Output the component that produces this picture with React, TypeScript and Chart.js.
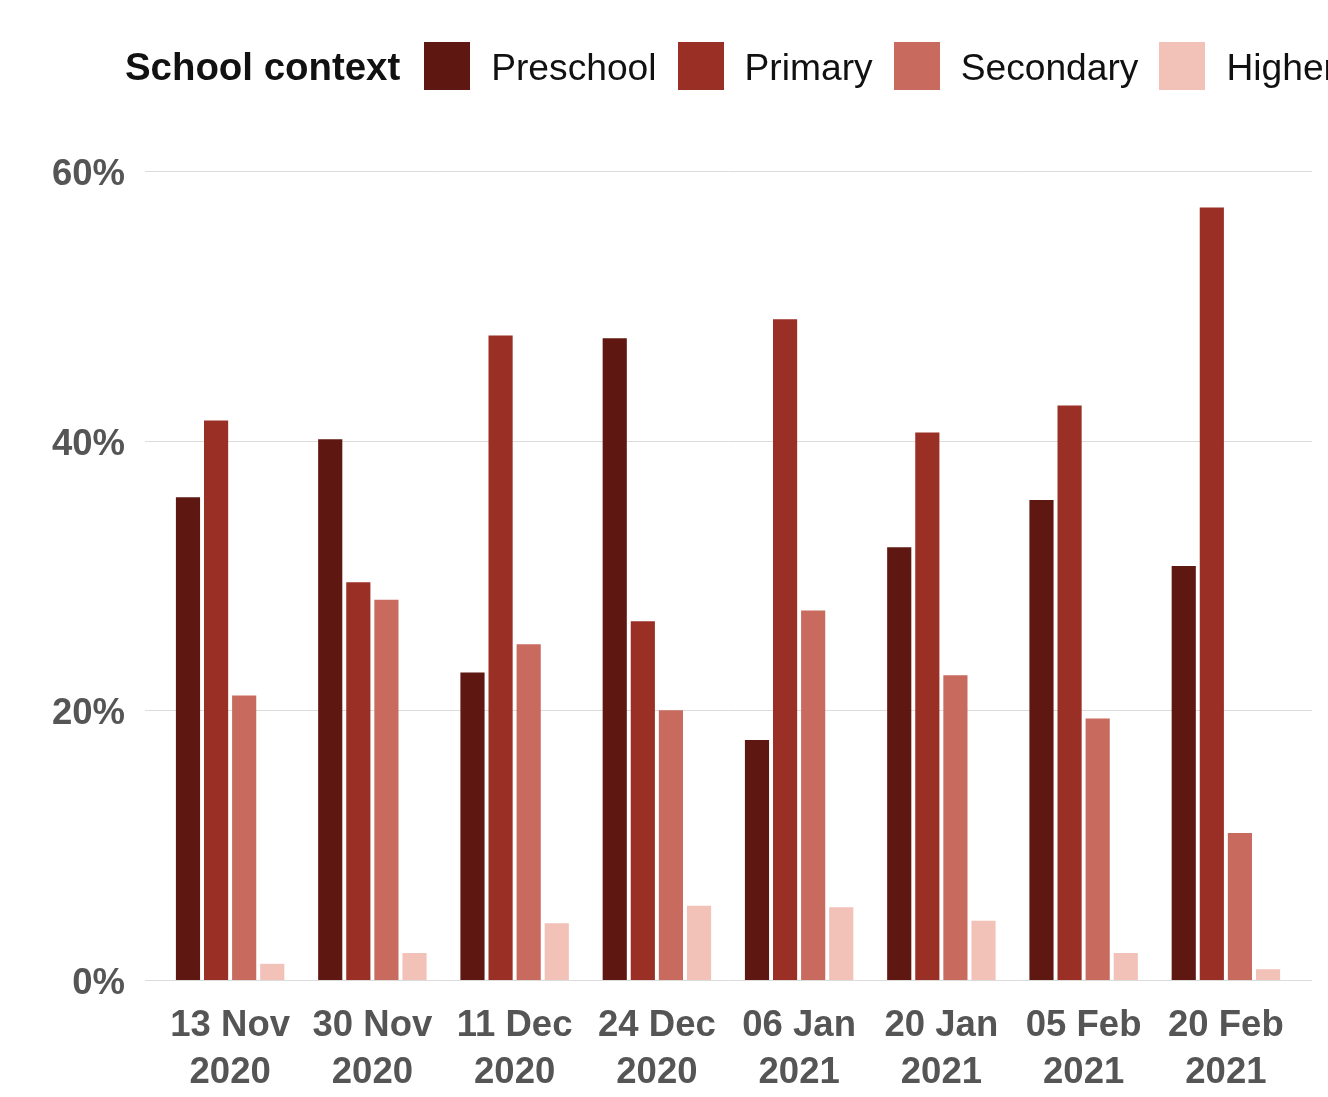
import React, { useEffect, useRef } from 'react';
import { Chart, registerables } from 'chart.js';

Chart.register(...registerables);

const categories: string[][] = [
  ['13 Nov', '2020'],
  ['30 Nov', '2020'],
  ['11 Dec', '2020'],
  ['24 Dec', '2020'],
  ['06 Jan', '2021'],
  ['20 Jan', '2021'],
  ['05 Feb', '2021'],
  ['20 Feb', '2021'],
];
const seriesNames = ['Preschool', 'Primary', 'Secondary', 'Higher'];
const preschool = [35.8, 40.1, 22.8, 47.6, 17.8, 32.1, 35.6, 30.7];
const primary = [41.5, 29.5, 47.8, 26.6, 49.0, 40.6, 42.6, 57.3];
const secondary = [21.1, 28.2, 24.9, 20.0, 27.4, 22.6, 19.4, 10.9];
const higher = [1.2, 2.0, 4.2, 5.5, 5.4, 4.4, 2.0, 0.8];
const seriesColors = ['#5f1711', '#9a2f25', '#c96a5f', '#f2c1b8'];
const yTicks = [0, 20, 40, 60];
const legendTitle = 'School context';

const FONT = '"Liberation Sans", Arial, Helvetica, sans-serif';

const gridPlugin = {
  id: 'extGrid',
  beforeDatasetsDraw(chart: any) {
    const { ctx, chartArea, scales } = chart;
    const y = scales.y;
    ctx.save();
    ctx.strokeStyle = '#dcdcdc';
    ctx.lineWidth = 1;
    yTicks.forEach((v) => {
      const py = Math.round(y.getPixelForValue(v)) + 0.5;
      ctx.beginPath();
      ctx.moveTo(chartArea.left - 14, py);
      ctx.lineTo(chartArea.right + 15, py);
      ctx.stroke();
    });
    ctx.restore();
  },
};

export default function App() {
  const canvasRef = useRef<HTMLCanvasElement>(null);

  useEffect(() => {
    const allSeries = [preschool, primary, secondary, higher];
    const chart = new Chart(canvasRef.current!, {
      type: 'bar',
      data: {
        labels: categories,
        datasets: seriesNames.map((name, i) => ({
          label: name,
          data: allSeries[i],
          backgroundColor: seriesColors[i],
          borderWidth: 0,
          barPercentage: 0.86,
          categoryPercentage: 0.79,
        })),
      },
      options: {
        animation: false,
        responsive: true,
        maintainAspectRatio: false,
        layout: { padding: { top: 171, right: 31, left: 0, bottom: 0 } },
        plugins: {
          legend: { display: false },
          tooltip: { enabled: false },
        },
        scales: {
          x: {
            grid: { display: false, drawTicks: false },
            border: { display: false },
            ticks: {
              color: '#555555',
              font: { family: FONT, size: 36.5, weight: 'bold', lineHeight: 1.27 },
              padding: 23,
              maxRotation: 0,
              autoSkip: false,
            },
            afterFit: (s: any) => {
              s.height = 117;
            },
          },
          y: {
            min: 0,
            max: 60,
            grid: { display: false, drawTicks: false },
            border: { display: false },
            ticks: {
              stepSize: 20,
              color: '#555555',
              font: { family: FONT, size: 36.5, weight: 'bold' },
              padding: 34,
              labelOffset: 4,
              callback: (v: any) => `${v}%`,
            },
            afterFit: (s: any) => {
              s.width = 159;
            },
          },
        },
      },
      plugins: [gridPlugin],
    });
    return () => chart.destroy();
  }, []);

  return (
    <div
      style={{
        position: 'fixed',
        left: 0,
        top: 0,
        width: 1328,
        height: 1097,
        overflow: 'hidden',
        background: '#ffffff',
      }}
    >
      <div style={{ position: 'absolute', left: 0, top: 0, width: 1328, height: 1097 }}>
        <canvas ref={canvasRef} />
      </div>
      <div
        style={{
          position: 'absolute',
          left: 125,
          top: 42,
          height: 48,
          display: 'flex',
          alignItems: 'center',
          whiteSpace: 'nowrap',
          fontFamily: FONT,
          color: '#111111',
        }}
      >
        <span style={{ fontWeight: 'bold', fontSize: 38.4, marginRight: 24, position: 'relative', top: 1 }}>
          {legendTitle}
        </span>
        {seriesNames.map((name, i) => (
          <React.Fragment key={name}>
            <span
              style={{
                display: 'inline-block',
                width: 46,
                height: 48,
                background: seriesColors[i],
                marginRight: 21,
                flex: '0 0 auto',
              }}
            />
            <span style={{ fontSize: 37.2, marginRight: 21, position: 'relative', top: 1 }}>{name}</span>
          </React.Fragment>
        ))}
      </div>
    </div>
  );
}
